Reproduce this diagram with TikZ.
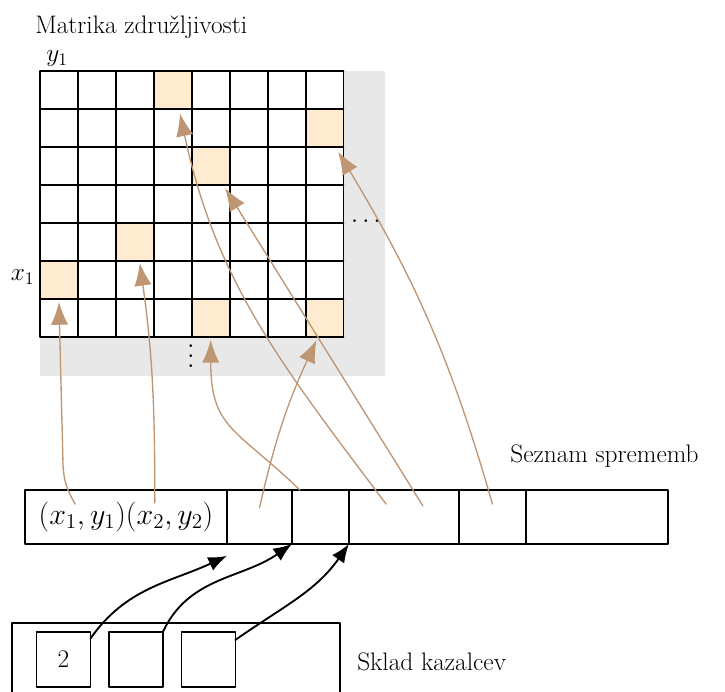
\RequirePackage{fix-cm}
\documentclass[tikz,border=0pt]{standalone}
\usetikzlibrary{arrows.meta,positioning}
\definecolor{nau}{RGB}{190,150,115}
\definecolor{kem}{RGB}{255,235,208}
\definecolor{xam}{RGB}{232,232,232}
\begin{document}
\begin{tikzpicture}[line cap=round,line join=round,x=1cm,y=1cm,
		font=\fontsize{19}{23}\selectfont,
		cell/.style={draw,line width=1.2pt,inner sep=0pt,outer sep=0pt,minimum height=1.42cm},
		hit/.style={fill=kem,inner sep=0pt,outer sep=0pt,minimum size=1cm},
		link/.style={draw=nau,line width=1pt,-{Latex[length=17pt,width=13pt]}},
		ptr/.style={line width=1.4pt,-{Latex[length=14pt,width=11pt]}}]
	\useasboundingbox (-1.054,1.871) rectangle (18.055,-16.342);
	\clip (-1.054,1.871) rectangle (18.055,-16.342); %cắt khung
	% Ma trận
	\fill[xam] (0,0) rectangle (9.1,-8.05); %nền xám
	\fill[white] (0,0) rectangle (8,-7);
	\foreach \x/\y in {3/0,7/1,4/2,2/4,0/5,4/6,7/6} %các ô tô màu
	\node[hit] (h\x\y) at (\x+0.5,-\y-0.5) {};
	\draw[line width=1.4pt] (0,0) grid (8,-7); %vẽ lưới
	\node[anchor=base west,inner sep=0pt] (naslov) at (-0.13,0.975) {Matrika združljivosti};
	\node (y1) at (0.45,0.32) {$y_1$};
	\node (x1) at (-0.46,-5.43) {$x_1$};
	\node[font=\normalsize,scale=1.9] (pike) at (8.59,-3.95) {$\ldots$};
	\node[font=\normalsize,scale=1.9] (pikev) at (3.98,-7.31) {$\vdots$};
	% Seznam sprememb
	\node[cell,minimum width=5.324cm,font=\fontsize{22.5}{27}\selectfont] (c0) at (2.267,-11.755) {$(x_1,y_1)(x_2,y_2)$};
	\node[cell,minimum width=1.713cm,right=0pt of c0] (c1) {};
	\node[cell,minimum width=1.502cm,right=0pt of c1] (c2) {};
	\node[cell,minimum width=2.899cm,right=0pt of c2] (c3) {};
	\node[cell,minimum width=1.766cm,right=0pt of c3] (c4) {};
	\node[cell,minimum width=3.743cm,right=0pt of c4] (c5) {};
	\node[anchor=base west,inner sep=0pt] (seznam) at (12.39,-10.33) {Seznam sprememb};
	% Sklad kazalcev
	\node[cell,minimum width=8.645cm,minimum height=2.5cm] (sklad) at (3.585,-15.8) {};
	\node[cell,minimum width=1.42cm,minimum height=1.45cm] (p1) at (0.619,-15.51) {2};
	\node[cell,minimum width=1.42cm,minimum height=1.45cm,right=0.49cm of p1] (p2) {};
	\node[cell,minimum width=1.42cm,minimum height=1.45cm,right=0.49cm of p2] (p3) {};
	\node[anchor=base west,inner sep=0pt] (skladt) at (8.355,-15.79) {Sklad kazalcev};
	% Kazalci
	\draw[ptr] ([yshift=-5pt]p1.north east) to[out=55,in=205] ([yshift=-9pt]c1.south west);
	\draw[ptr] (p2.north east) to[out=65,in=215] (c2.south west);
	\draw[ptr] ([yshift=-6pt]p3.north east) to[out=35,in=235] (c3.south west);
	% Mũi tên vào ma trận
	\draw[link] ([xshift=-1.34cm,yshift=0.34cm]c0.center) to[out=120,in=-88] ++(-0.32,1.05) -- ([yshift=-0.09cm]h05.south);
	\draw[link] ([xshift=0.76cm,yshift=0.37cm]c0.center) to[out=90,in=-82] ([xshift=0.13cm,yshift=-0.06cm]h24.south);
	\draw[link] ([xshift=0.21cm]c2.north west) to[out=136,in=-90,looseness=1.3] ([yshift=-0.09cm]h46.south);
	\draw[link] ([yshift=0.24cm]c1.center) to[bend left=6] ([xshift=-0.21cm,yshift=-0.09cm]h76.south);
	\draw[link] ([xshift=-0.47cm,yshift=0.34cm]c3.center) to[out=127,in=-78] ([xshift=0.19cm,yshift=-0.12cm]h30.south);
	\draw[link] ([xshift=0.5cm,yshift=0.29cm]c3.center) -- ([xshift=-0.12cm,yshift=-0.09cm]h42.south east);
	\draw[link] ([yshift=0.34cm]c4.center) to[out=106,in=-59] ([xshift=-0.14cm,yshift=-0.13cm]h71.south east);
\end{tikzpicture}
\end{document}
